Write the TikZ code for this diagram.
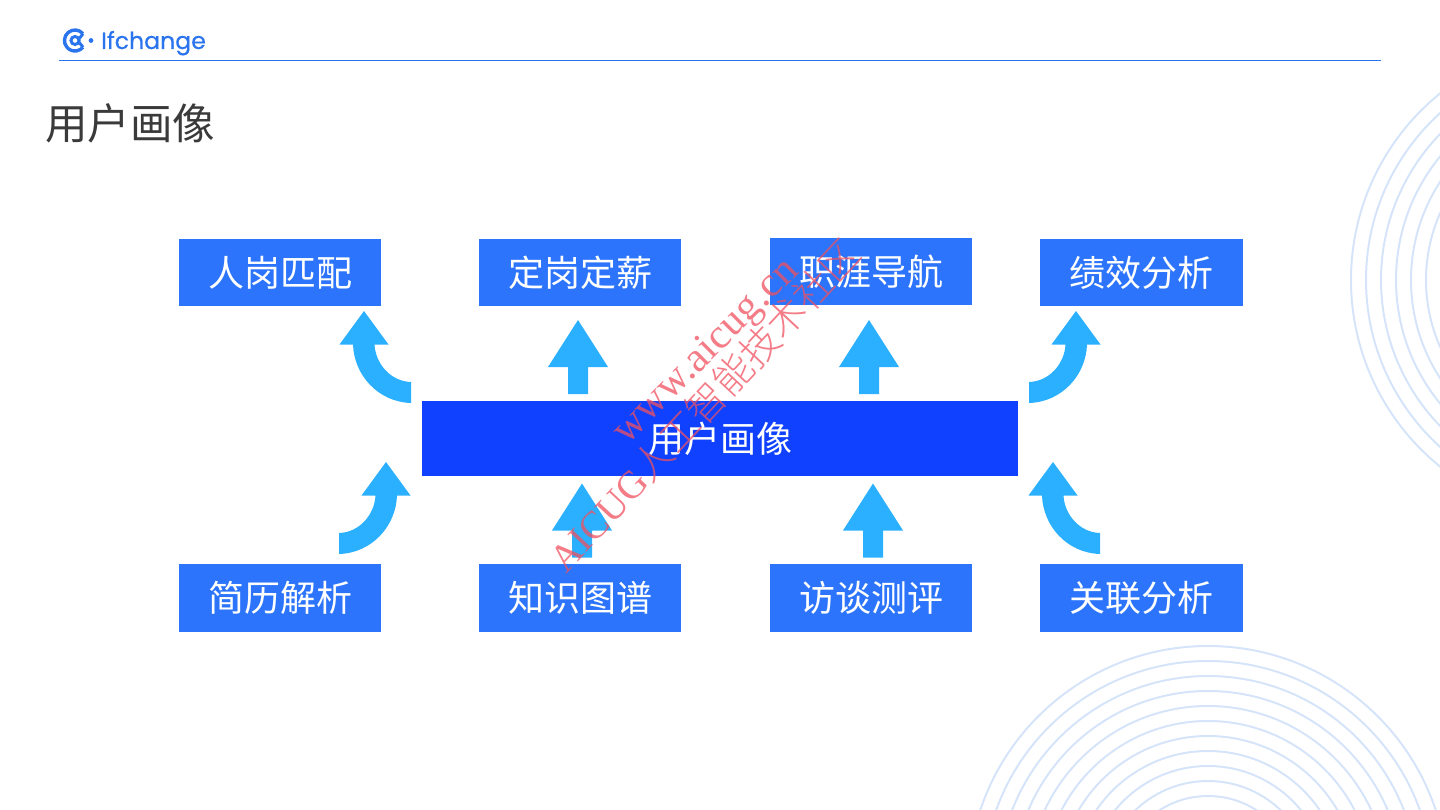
\documentclass[tikz,border=0pt]{standalone}
\usepackage{fontspec}
\setmainfont{Noto Sans CJK SC}
\newfontfamily\cjkl{Noto Sans CJK SC Light}
\newfontfamily\latin[FakeBold=0.5]{Poppins}
\newfontfamily\wser[LetterSpace=1]{Liberation Serif}
\newfontfamily\wsera{Liberation Serif}
\definecolor{boxblue}{HTML}{2B74FB}
\definecolor{midblue}{HTML}{0F41FF}
\definecolor{arrowblue}{HTML}{2BB0FF}
\definecolor{ringblue}{HTML}{D6E4F9}
\definecolor{logoblue}{HTML}{2A74EE}
\definecolor{titlegray}{HTML}{3A3A3A}
\definecolor{wmred}{HTML}{F0505F}
\tikzset{
  x=1pt,y=-1pt,
  bx/.style={fill=boxblue,draw=none,text=white,minimum width=203pt,minimum height=68pt,inner sep=0pt,font=\fontsize{36}{36}\selectfont},
  arrowfill/.style={fill=arrowblue,draw=none},
  ring/.style={draw=ringblue,line width=2pt},
  wm/.style={text=wmred,opacity=.75,inner sep=0pt},
}
\begin{document}
\begin{tikzpicture}
\useasboundingbox (0,0) rectangle (1440,810);
\begin{scope}
\clip (0,0) rectangle (1440,810);
\foreach \r in {90,105,...,240} \draw[ring] (1208,886) circle[radius=\r];
\foreach \r in {165,180,...,240} \draw[ring] (1591,280) circle[radius=\r];
\end{scope}
% header
\draw[logoblue,line width=1pt] (59,60.5) -- (1381,60.5);
\draw[logoblue,line width=3.4pt] (83,33.75) arc[start angle=-40,end angle=-320,radius=10.5];
\draw[logoblue,line width=3pt] (75,40.5) circle[radius=4];
\draw[logoblue,line width=3pt] (83,33.75) -- (78.5,39.5);
\draw[logoblue,line width=3pt] (83,47.25) -- (78.5,41.5);
\fill[logoblue] (91,40.5) circle[radius=2.4];
\node[anchor=base west,inner sep=0pt,text=logoblue,font=\latin\fontsize{23.6}{24}\selectfont] (logo) at (101,49) {Ifchange};
\node[anchor=west,inner sep=0pt,text=titlegray,font=\fontsize{42.5}{42.5}\selectfont] (title) at (45,123) {用户画像};
% boxes
\node[bx,minimum width=202pt,minimum height=67pt] (a1) at (280,272.5) {人岗匹配};
\node[bx,minimum width=202pt,minimum height=67pt] (a2) at (580,272.5) {定岗定薪};
\node[bx,minimum width=202pt,minimum height=67pt] (a3) at (871,271.5) {职涯导航};
\node[bx,minimum height=67pt] (a4) at (1141.5,272.5) {绩效分析};
\node[bx,minimum width=202pt] (b1) at (280,598) {简历解析};
\node[bx,minimum width=202pt] (b2) at (580,598) {知识图谱};
\node[bx,minimum width=202pt] (b3) at (871,598) {访谈测评};
\node[bx] (b4) at (1141.5,598) {关联分析};
\node[fill=midblue,text=white,minimum width=596pt,minimum height=75pt,inner sep=0pt,font=\fontsize{36}{36}\selectfont] (mid) at (720,438.5) {用户画像};
% straight arrows
\foreach \cx/\ty in {578/320,869/320,582/483.5,873/483.5}{
  \fill[arrowfill] (\cx,\ty) -- (\cx+30,\ty+47) -- (\cx+10,\ty+47) -- (\cx+10,\ty+74) -- (\cx-10,\ty+74) -- (\cx-10,\ty+47) -- (\cx-30,\ty+47) -- cycle;
}
% curved arrows (one shape, mirrored)
\newcommand{\curved}[1]{%
  \fill[arrowfill,#1] (364,311) -- (388.5,344.5) -- (374.5,344.5)
    .. controls (375.5,364) and (391,381.5) .. (411,382)
    -- (411,403)
    .. controls (378,402) and (354,375) .. (353,344.5)
    -- (339.5,344.5) -- cycle;
}
\curved{}
\curved{cm={-1,0,0,1,(1440pt,0pt)}}
\curved{cm={-1,0,0,1,(750pt,-151pt)}}
\curved{cm={1,0,0,1,(689pt,-151pt)}}
% watermark
\node[wm,rotate=45,font=\wser\fontsize{42}{42}\selectfont] (w1) at (707,352) {www.aicug.cn};
\node[wm,rotate=47,font=\cjkl\fontsize{39}{39}\selectfont] (w2) at (704,405) {\wsera AICUG\cjkl 人工智能技术社区};
\end{tikzpicture}
\end{document}
